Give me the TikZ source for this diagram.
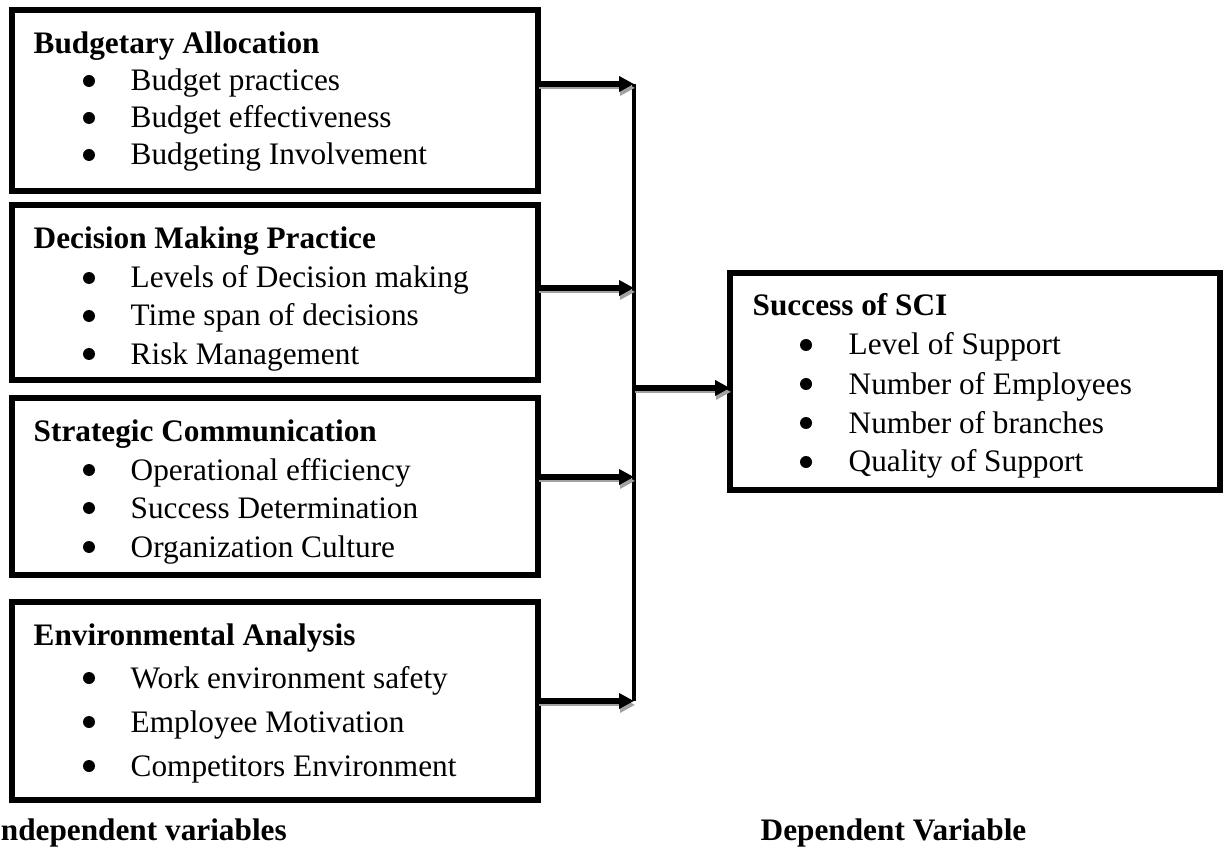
\documentclass[tikz,border=0pt]{standalone}
\usepackage{fontspec}
\setmainfont{Liberation Serif}
\usetikzlibrary{arrows.meta}

\tikzset{
  varbox/.style={draw,line width=1.6pt,inner sep=0pt,outer sep=0pt,anchor=north west},
  head/.style={anchor=base west,inner sep=0pt,font=\fontsize{8.9}{10.5}\selectfont\bfseries},
  entry/.style={anchor=base west,inner sep=0pt,font=\fontsize{8.9}{10.5}\selectfont},
  link/.style={-{Triangle[length=0.15cm,width=0.15cm]},line width=1.6pt,
    preaction={draw,black!37,transform canvas={shift={(0.3pt,-1.1pt)}}}},
  bus/.style={line width=1.4pt}
}

\begin{document}
\begin{tikzpicture}
        \useasboundingbox (0,0) rectangle (12.24,8.54);

        % boxes
        \node[varbox,minimum width=5.26cm,minimum height=1.81cm] (ba) at (0.12,8.44) {};
        \node[varbox,minimum width=5.26cm,minimum height=1.75cm] (dm) at (0.12,6.49) {};
        \node[varbox,minimum width=5.26cm,minimum height=1.77cm] (sc) at (0.12,4.56) {};
        \node[varbox,minimum width=5.26cm,minimum height=1.98cm] (ea) at (0.12,2.52) {};
        \node[varbox,minimum width=4.90cm,minimum height=2.17cm] (sci) at (7.30,5.81) {};

        % texts
        \node[head] (ba-h) at (0.33,8.00) {Budgetary Allocation};
        \node[entry] (ba-1) at (1.30,7.63) {Budget practices};
        \node[entry] (ba-2) at (1.30,7.26) {Budget effectiveness};
        \node[entry] (ba-3) at (1.30,6.89) {Budgeting Involvement};

        \node[head] (dm-h) at (0.33,6.05) {Decision Making Practice};
        \node[entry] (dm-1) at (1.30,5.66) {Levels of Decision making};
        \node[entry] (dm-2) at (1.30,5.28) {Time span of decisions};
        \node[entry] (dm-3) at (1.30,4.90) {Risk Management};

        \node[head] (sc-h) at (0.33,4.12) {Strategic Communication};
        \node[entry] (sc-1) at (1.30,3.74) {Operational efficiency};
        \node[entry] (sc-2) at (1.30,3.36) {Success Determination};
        \node[entry] (sc-3) at (1.30,2.97) {Organization Culture};

        \node[head] (ea-h) at (0.33,2.09) {Environmental Analysis};
        \node[entry] (ea-1) at (1.30,1.66) {Work environment safety};
        \node[entry] (ea-2) at (1.30,1.22) {Employee Motivation};
        \node[entry] (ea-3) at (1.30,0.78) {Competitors Environment};

        \node[head] (sci-h) at (7.52,5.38) {Success of SCI};
        \node[entry] (sci-1) at (8.48,4.99) {Level of Support};
        \node[entry] (sci-2) at (8.48,4.60) {Number of Employees};
        \node[entry] (sci-3) at (8.48,4.21) {Number of branches};
        \node[entry] (sci-4) at (8.48,3.82) {Quality of Support};

        \node[head] (indep) at (-0.12,0.14) {Independent variables};
        \node[head] (dep) at (7.60,0.14) {Dependent Variable};

        % bullets
        \fill (0.89,7.73) circle (0.06);
        \fill (0.89,7.36) circle (0.06);
        \fill (0.89,6.99) circle (0.06);
        \fill (0.89,5.76) circle (0.06);
        \fill (0.89,5.38) circle (0.06);
        \fill (0.89,5.00) circle (0.06);
        \fill (0.89,3.84) circle (0.06);
        \fill (0.89,3.46) circle (0.06);
        \fill (0.89,3.07) circle (0.06);
        \fill (0.89,1.76) circle (0.06);
        \fill (0.89,1.32) circle (0.06);
        \fill (0.89,0.88) circle (0.06);
        \fill (8.06,5.09) circle (0.06);
        \fill (8.06,4.70) circle (0.06);
        \fill (8.06,4.31) circle (0.06);
        \fill (8.06,3.92) circle (0.06);

        % connectors
        \coordinate (bus-ba) at (6.34,7.70);
        \coordinate (bus-dm) at (6.34,5.66);
        \coordinate (bus-sc) at (6.34,3.77);
        \coordinate (bus-ea) at (6.34,1.53);
        \coordinate (bus-sci) at (6.34,4.66);

        \draw[bus] (bus-ba) -- (bus-ea);
        \draw[link] (ba.east |- bus-ba) -- (bus-ba);
        \draw[link] (dm.east |- bus-dm) -- (bus-dm);
        \draw[link] (sc.east |- bus-sc) -- (bus-sc);
        \draw[link] (ea.east |- bus-ea) -- (bus-ea);
        \draw[link] (bus-sci) -- (sci.west |- bus-sci);
      \end{tikzpicture}
\end{document}
